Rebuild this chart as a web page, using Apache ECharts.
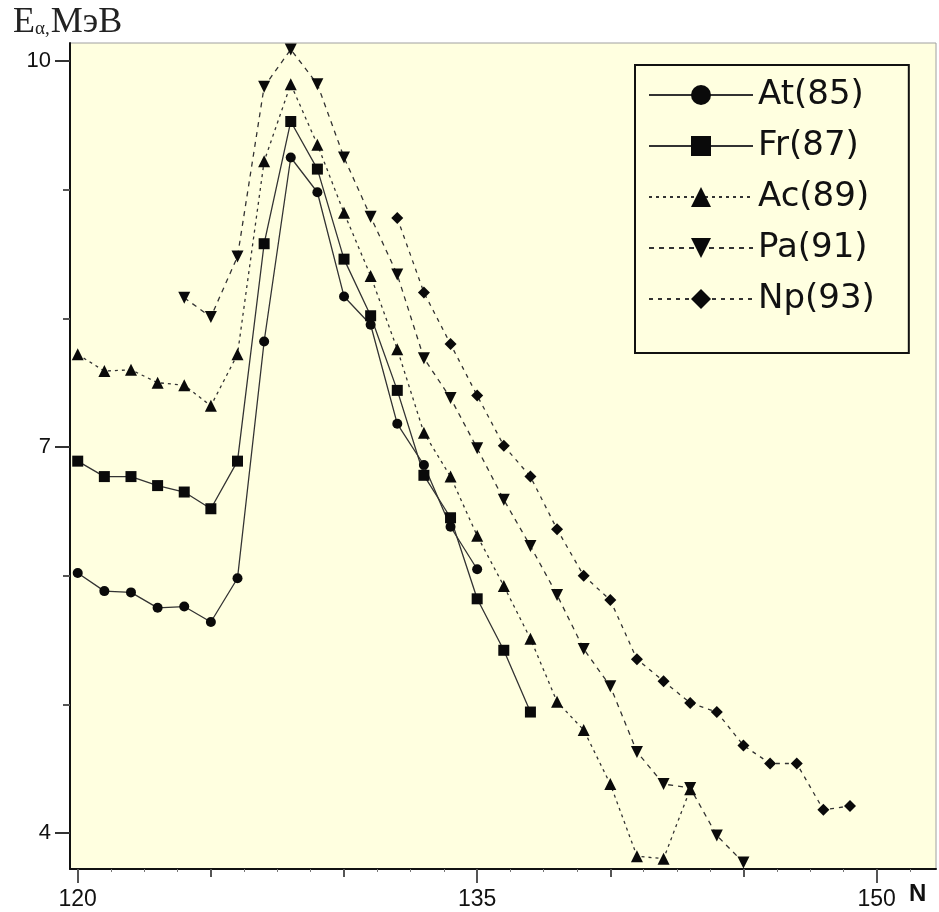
<!DOCTYPE html>
<html>
<head>
<meta charset="utf-8">
<script src="https://cdn.jsdelivr.net/npm/echarts@6/dist/echarts.min.js"></script>
<style>
  html, body { margin: 0; padding: 0; background: #fff; }
  #Chart { width: 939px; height: 912px; }
</style>
</head>
<body>
<div id="Chart"></div>
<script>
  // neutron number N and alpha energy (MeV)
  var atN = [120, 121, 122, 123, 124, 125, 126, 127, 128, 129, 130, 131, 132, 133, 134, 135]
  var atE = [6.02, 5.88, 5.87, 5.75, 5.76, 5.64, 5.98, 7.82, 9.25, 8.98, 8.17, 7.95, 7.18, 6.86, 6.38, 6.05]

  var frN = [120, 121, 122, 123, 124, 125, 126, 127, 128, 129, 130, 131, 132, 133, 134, 135, 136, 137]
  var frE = [6.89, 6.77, 6.77, 6.70, 6.65, 6.52, 6.89, 8.58, 9.53, 9.16, 8.46, 8.02, 7.44, 6.78, 6.45, 5.82, 5.42, 4.94]

  var acN = [120, 121, 122, 123, 124, 125, 126, 127, 128, 129, 130, 131, 132, 133, 134, 135, 136, 137, 138, 139, 140, 141, 142, 143]
  var acE = [7.72, 7.59, 7.60, 7.50, 7.48, 7.32, 7.72, 9.22, 9.82, 9.35, 8.82, 8.33, 7.76, 7.11, 6.77, 6.31, 5.92, 5.51, 5.02, 4.80, 4.38, 3.82, 3.80, 4.34]

  var paN = [124, 125, 126, 127, 128, 129, 130, 131, 132, 133, 134, 135, 136, 137, 138, 139, 140, 141, 142, 143, 144, 145]
  var paE = [8.16, 8.01, 8.48, 9.80, 10.09, 9.82, 9.25, 8.79, 8.34, 7.69, 7.38, 6.99, 6.59, 6.23, 5.85, 5.43, 5.14, 4.63, 4.38, 4.35, 3.98, 3.77]

  var npN = [132, 133, 134, 135, 136, 137, 138, 139, 140, 141, 142, 143, 144, 145, 146, 147, 148, 149]
  var npE = [8.78, 8.20, 7.80, 7.40, 7.01, 6.77, 6.36, 6.00, 5.81, 5.35, 5.18, 5.01, 4.94, 4.68, 4.54, 4.54, 4.18, 4.21]

  var names = ['At(85)', 'Fr(87)', 'Ac(89)', 'Pa(91)', 'Np(93)']

  var yLabelTicks = [4, 7, 10]
  var yMinorTicks = [5, 6, 8, 9]
  var xLabelTicks = [120, 135, 150]
  var xMidTicks = [125, 130, 140, 145]

  var xMin = 119.71, xMax = 152.23
  var yMin = 3.72, yMax = 10.14

  function pairs(xs, ys) {
    return xs.map(function (x, i) { return [x, ys[i]] })
  }

  // small ticks every 1.25 between the major ones
  var xSmallTicks = []
  for (var k = 0; 120 + k * 1.25 < xMax; k++) {
    if (k % 4 !== 0) xSmallTicks.push(120 + k * 1.25)
  }

  var lineColor = '#333'
  var markColor = '#0a0a0a'

  function makeSeries(name, data, symbol, size, lineType, rotate) {
    return {
      name: name,
      type: 'line',
      data: data,
      symbol: symbol,
      symbolSize: size,
      symbolRotate: rotate || 0,
      itemStyle: { color: markColor },
      lineStyle: { color: lineColor, width: 1.3, type: lineType },
      xAxisIndex: 0,
      yAxisIndex: 0
    }
  }

  var Chart = echarts.init(document.getElementById('Chart'))

  var hiddenLine = { show: false }
  var axisFont = 'Liberation Sans'

  Chart.setOption({
    animation: false,
    backgroundColor: '#fff',
    grid: {
      left: 70, right: 3, top: 43, bottom: 43,
      show: true,
      backgroundColor: '#ffffe0',
      borderColor: '#a0a0a0',
      borderWidth: 1
    },
    legend: {
      orient: 'vertical',
      left: 635,
      top: 65,
      padding: [13, 34, 37, 13],
      itemGap: 17,
      itemWidth: 104,
      itemHeight: 25,
      borderColor: '#111',
      borderWidth: 2,
      lineStyle: { width: 2 },
      textStyle: { fontSize: 34, fontFamily: 'DejaVu Sans', color: '#111' },
      data: names
    },
    xAxis: [{
      type: 'value', min: xMin, max: xMax,
      splitLine: hiddenLine,
      axisLine: { show: true, onZero: false, lineStyle: { color: '#111', width: 2 } },
      axisTick: { show: true, customValues: xLabelTicks, length: 14, lineStyle: { color: '#555', width: 2 } },
      axisLabel: { customValues: xLabelTicks, margin: 19, fontSize: 23, fontFamily: axisFont, color: '#111' }
    }, {
      type: 'value', min: xMin, max: xMax, position: 'bottom',
      splitLine: hiddenLine,
      axisLine: hiddenLine,
      axisTick: { show: true, customValues: xMidTicks, length: 8, lineStyle: { color: '#555', width: 2 } },
      axisLabel: { show: false }
    }, {
      type: 'value', min: xMin, max: xMax, position: 'bottom',
      splitLine: hiddenLine,
      axisLine: hiddenLine,
      axisTick: { show: true, customValues: xSmallTicks, length: 3, lineStyle: { color: '#777', width: 1 } },
      axisLabel: { show: false }
    }],
    yAxis: [{
      type: 'value', min: yMin, max: yMax, position: 'left',
      splitLine: hiddenLine,
      axisLine: { show: true, onZero: false, lineStyle: { color: '#111', width: 2 } },
      axisTick: { show: true, customValues: yLabelTicks, length: 15, lineStyle: { color: '#333', width: 2 } },
      axisLabel: { customValues: yLabelTicks, margin: 19, fontSize: 22, fontFamily: axisFont, color: '#111' }
    }, {
      type: 'value', min: yMin, max: yMax, position: 'left',
      splitLine: hiddenLine,
      axisLine: hiddenLine,
      axisTick: { show: true, customValues: yMinorTicks, length: 7, lineStyle: { color: '#555', width: 2 } },
      axisLabel: { show: false }
    }],
    graphic: [{
      type: 'text',
      left: 13,
      top: 5,
      style: {
        text: '{e|E}{a|α,}{m|МэВ}',
        rich: {
          e: { fontSize: 36, fontFamily: 'Liberation Serif', fill: '#222' },
          a: { fontSize: 19, fontFamily: 'Liberation Serif', fill: '#222', padding: [12, 1, 0, 0] },
          m: { fontSize: 36, fontFamily: 'Liberation Serif', fill: '#222' }
        }
      }
    }, {
      type: 'text',
      left: 909,
      top: 882,
      style: { text: 'N', fontSize: 24, fontWeight: 'bold', fontFamily: axisFont, fill: '#111' }
    }],
    series: [
      makeSeries(names[0], pairs(atN, atE), 'circle', 10, 'solid'),
      makeSeries(names[1], pairs(frN, frE), 'rect', 11, 'solid'),
      makeSeries(names[2], pairs(acN, acE), 'triangle', 12, [3, 4]),
      makeSeries(names[3], pairs(paN, paE), 'triangle', 12, [5, 5], 180),
      makeSeries(names[4], pairs(npN, npE), 'diamond', 12, [4, 5])
    ]
  })
</script>
</body>
</html>
